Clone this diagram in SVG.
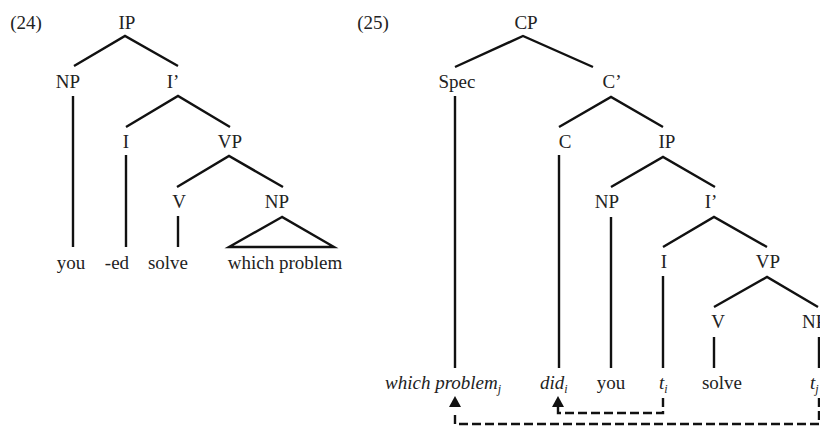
<svg xmlns="http://www.w3.org/2000/svg" width="820" height="429" viewBox="0 0 820 429">
<style>
text{font-family:"Liberation Serif","Times New Roman",serif;font-size:19px;fill:#222;text-anchor:middle}
.it{font-style:italic}
.sub{font-size:12px}
.st{text-anchor:start}
line,polyline,polygon.tri{stroke:#111;stroke-width:2.4;fill:none;stroke-linecap:butt}
.dash{stroke-dasharray:9 4;stroke-width:2.4}
.head{fill:#111;stroke:none}
</style>
<rect width="820" height="429" fill="#fff"/>
<text x="26" y="29">(24)</text>
<text x="373" y="29">(25)</text>
<g id="l-IP"><text x="127" y="29">IP</text></g>
<g id="l-NP"><text x="68" y="88">NP</text></g>
<g id="l-Ibar"><text x="173" y="88">I’</text></g>
<g id="l-I"><text x="126" y="148">I</text></g>
<g id="l-VP"><text x="230" y="148">VP</text></g>
<g id="l-V"><text x="179" y="208">V</text></g>
<g id="l-NP2"><text x="277" y="208">NP</text></g>
<g id="l-you"><text x="71" y="269">you</text></g>
<g id="l-ed"><text x="117" y="269">-ed</text></g>
<g id="l-solve"><text x="168" y="269">solve</text></g>
<g id="l-wp"><text x="285" y="269">which problem</text></g>
<g id="r-CP"><text x="526" y="29">CP</text></g>
<g id="r-Spec"><text x="457" y="88">Spec</text></g>
<g id="r-Cbar"><text x="612" y="88">C’</text></g>
<g id="r-C"><text x="565" y="148">C</text></g>
<g id="r-IP"><text x="667" y="148">IP</text></g>
<g id="r-NP"><text x="607" y="208">NP</text></g>
<g id="r-Ibar"><text x="711" y="208">I’</text></g>
<g id="r-I"><text x="664" y="268">I</text></g>
<g id="r-VP"><text x="768" y="268">VP</text></g>
<g id="r-V"><text x="718" y="328">V</text></g>
<g id="r-NP2"><text class="st" x="802" y="328">NP</text></g>
<g id="r-wp"><text class="it st" x="385" y="389">which problem<tspan class="sub" dy="4">j</tspan></text></g>
<g id="r-did"><text class="it st" x="540" y="389">did<tspan class="sub" dy="4">i</tspan></text></g>
<g id="r-you"><text x="611" y="389">you</text></g>
<g id="r-ti"><text class="it st" x="659" y="389">t<tspan class="sub" dy="4">i</tspan></text></g>
<g id="r-solve"><text x="722" y="389">solve</text></g>
<g id="r-tj"><text class="it st" x="810" y="389">t<tspan class="sub" dy="4">j</tspan></text></g>
<g id="connectors">
<polyline points="74,66 125,36 178,66"/>
<polyline points="126,127 178,96 230,127"/>
<line x1="73" y1="96" x2="73" y2="247"/>
<line x1="126" y1="155" x2="126" y2="247"/>
<polyline points="177,187 229,156 283,187"/>
<line x1="178" y1="216" x2="178" y2="247"/>
<polygon class="tri" points="282,217 229,247 334,247"/>
<polyline points="455,67 523,36 593,67"/>
<polyline points="559,127 611,97 663,127"/>
<line x1="455" y1="96" x2="455" y2="368"/>
<line x1="559" y1="155" x2="559" y2="368"/>
<polyline points="611,187 663,157 715,187"/>
<line x1="611" y1="217" x2="611" y2="368"/>
<polyline points="663,247 714,217 767,247"/>
<line x1="663" y1="276" x2="663" y2="368"/>
<polyline points="714,307 767,277 818,307"/>
<line x1="714" y1="337" x2="714" y2="368"/>
<line x1="819" y1="337" x2="819" y2="368"/>
<polyline class="dash" points="663,398 663,413 558,413 558,407"/>
<polygon class="head" points="558,396 552,407 564,407"/>
<polyline class="dash" points="819,398 819,424 455,424 455,414"/>
<polygon class="head" points="455,396 449,407 461,407"/>
</g>
</svg>
